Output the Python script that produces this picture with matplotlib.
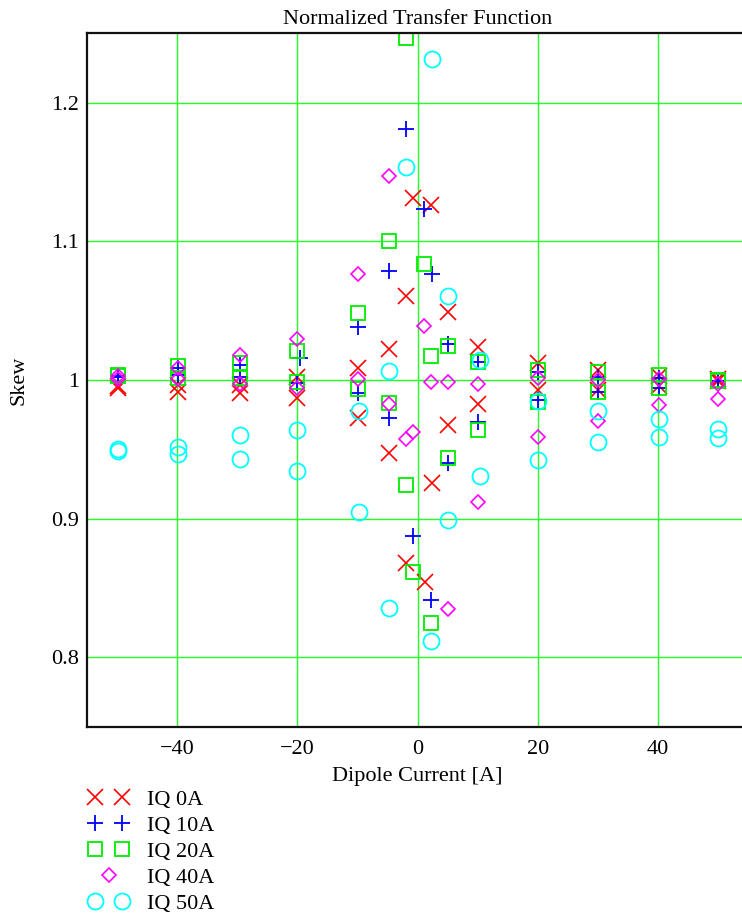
import matplotlib
matplotlib.use("Agg")
import matplotlib.pyplot as plt
from matplotlib.legend_handler import HandlerLine2D

plt.rcParams['font.family'] = ['Liberation Serif', 'DejaVu Serif']
plt.rcParams['axes.unicode_minus'] = True

# Skew of the normalized transfer function vs dipole current, per quadrupole current
x_iq0 = [-49.8, -49.8, -39.9, -39.9, -29.6, -29.6, -20.0, -20.0, -10.0, -10.0,
         -4.7, -4.7, -1.9, -1.9, -0.8, 1.2, 2.5, 2.3, 2.4, 5.1, 5.1,
         10.1, 10.1, 20.0, 20.0, 30.0, 30.0, 40.2, 40.2, 50.0, 50.0]
y_iq0 = [0.996, 0.994, 0.9964, 0.9916, 0.9964, 0.9904, 1.002, 0.9868, 1.0084, 0.9724,
         1.0221, 0.9476, 1.0608, 0.8678, 1.131, 0.8541, 1.256, 1.126, 0.926, 1.0493, 0.9676,
         1.0236, 0.9827, 1.012, 0.9928, 1.0072, 0.9928, 1.003, 0.996, 1.001, 0.999]

x_iq10 = [-49.8, -49.8, -39.9, -39.9, -29.6, -29.6, -19.5, -20.0, -10.0, -10.0,
          -4.8, -4.8, -1.9, -0.8, 1.0, 2.4, 2.3, 5.1, 5.1,
          10.1, 10.1, 20.0, 20.0, 30.0, 30.0, 40.2, 40.2, 50.0, 50.0]
y_iq10 = [1.0024, 1.003, 1.009, 1.0036, 1.0108, 1.002, 1.0156, 0.998, 1.038, 0.9904,
          1.0788, 0.9724, 1.1812, 0.8875, 1.123, 1.0762, 0.8414, 1.0257, 0.940,
          1.0128, 0.9695, 1.006, 0.9856, 1.0024, 0.9916, 1.0017, 0.994, 0.999, 0.999]

x_iq20 = [-49.8, -49.8, -39.9, -39.9, -29.6, -29.6, -20.0, -20.0, -10.0, -10.0,
          -4.8, -4.8, -2.0, -2.0, -0.8, 1.0, 2.2, 2.2, 5.0, 5.0,
          10.1, 10.1, 20.0, 20.0, 30.0, 30.0, 40.2, 40.2, 50.0, 50.0]
y_iq20 = [1.0036, 1.003, 1.010, 1.0012, 1.0125, 1.0012, 1.0211, 0.9988, 1.048, 0.9933,
          1.1004, 0.9837, 1.2464, 0.9243, 0.8613, 1.0834, 1.0173, 0.825, 1.0245, 0.9435,
          1.0128, 0.964, 1.0072, 0.9844, 1.006, 0.9916, 1.0036, 0.994, 1.000, 0.999]

x_iq40 = [-49.8, -49.8, -39.9, -39.9, -29.6, -29.6, -20.0, -20.0, -10.0, -10.0,
          -4.8, -4.8, -2.0, -0.8, 1.1, 2.2, 5.0, 5.0,
          10.1, 10.1, 20.0, 20.0, 30.0, 30.0, 40.2, 40.2, 50.0, 50.0]
y_iq40 = [1.0007, 1.003, 1.009, 1.0007, 1.018, 0.9971, 1.0296, 0.994, 1.0762, 1.0005,
          1.1473, 0.9825, 0.9575, 0.9628, 1.0392, 0.9988, 0.9988, 0.8347,
          0.9971, 0.9118, 1.0012, 0.9587, 1.000, 0.9707, 1.0005, 0.982, 0.997, 0.986]

x_iq50 = [-49.8, -49.8, -39.9, -39.9, -29.6, -29.6, -20.0, -20.0, -9.8, -9.8,
          -4.7, -4.7, -1.9, 2.4, 2.3, 5.1, 5.1,
          10.3, 10.3, 20.0, 20.0, 30.0, 30.0, 40.2, 40.2, 50.0, 50.0]
y_iq50 = [0.949, 0.950, 0.9519, 0.9467, 0.9603, 0.943, 0.964, 0.9346, 0.9776, 0.905,
          1.0067, 0.8354, 1.1538, 1.2312, 0.812, 1.0608, 0.899,
          1.0144, 0.931, 0.985, 0.9423, 0.9776, 0.9555, 0.9717, 0.959, 0.9644, 0.958]

labels = ["IQ 0A", "IQ 10A", "IQ 20A", "IQ 40A", "IQ 50A"]
x_ticks = [-40, -20, 0, 20, 40]
y_ticks = [0.8, 0.9, 1.0, 1.1, 1.2]
y_tick_labels = ["0.8", "0.9", "1", "1.1", "1.2"]

FS = 16
W, H = 742, 916
fig = plt.figure(figsize=(W / 100, H / 100), dpi=100)
ax_left, ax_right, ax_top, ax_bottom = 87.2, 748.1, 33.3, 726.8
ax = fig.add_axes([ax_left / W, 1 - ax_bottom / H,
                   (ax_right - ax_left) / W, (ax_bottom - ax_top) / H])

ax.set_xlim(-55, 55)
ax.set_ylim(0.75, 1.25)

ax.set_xticks(x_ticks)
ax.set_yticks(y_ticks)
ax.set_yticklabels(y_tick_labels)
ax.tick_params(length=0, labelsize=FS)
ax.tick_params(axis='y', pad=6)
ax.tick_params(axis='x', pad=9.5)
ax.grid(True, color='#22ff22', linewidth=1.0)
ax.set_axisbelow(True)

for side in ['left', 'top', 'bottom']:
    ax.spines[side].set_linewidth(1.6)
    ax.spines[side].set_color('#111111')
ax.spines['right'].set_visible(False)

mk = dict(linestyle='none', markerfacecolor='none')
h0, = ax.plot(x_iq0, y_iq0, marker='x', color='#ff0000', markersize=12, markeredgewidth=1.2, label=labels[0], **mk)
h1, = ax.plot(x_iq10, y_iq10, marker='+', color='#0000ff', markersize=12, markeredgewidth=1.3, label=labels[1], **mk)
h2, = ax.plot(x_iq20, y_iq20, marker='s', color='#00ee00', markersize=9.5, markeredgewidth=1.3, label=labels[2], **mk)
h3, = ax.plot(x_iq40, y_iq40, marker='D', color='#ff00ff', markersize=6.8, markeredgewidth=1.2, label=labels[3], **mk)
h4, = ax.plot(x_iq50, y_iq50, marker='o', color='#00ffff', markersize=11.5, markeredgewidth=1.3, label=labels[4], **mk)

ax.set_title("Normalized Transfer Function", fontsize=FS, pad=7)
ax.set_xlabel("Dipole Current [A]", fontsize=FS, labelpad=6)
ax.set_ylabel("Skew", fontsize=FS, labelpad=16)

fs_px = FS * 100 / 72
marker_gap = 27.0
fig.legend(handles=[h0, h1, h2, h3, h4], labels=labels,
           loc='upper left', bbox_to_anchor=((95 - 0.3 * fs_px) / W, 1 - 789 / H),
           frameon=False, fontsize=FS, numpoints=2,
           handlelength=marker_gap / fs_px + 0.6,
           handletextpad=(147 - 122 - 0.3 * fs_px) / fs_px,
           labelspacing=0.25, borderpad=0, borderaxespad=0,
           handler_map={h3: HandlerLine2D(numpoints=1)})

fig.savefig("out.png", dpi=100)
